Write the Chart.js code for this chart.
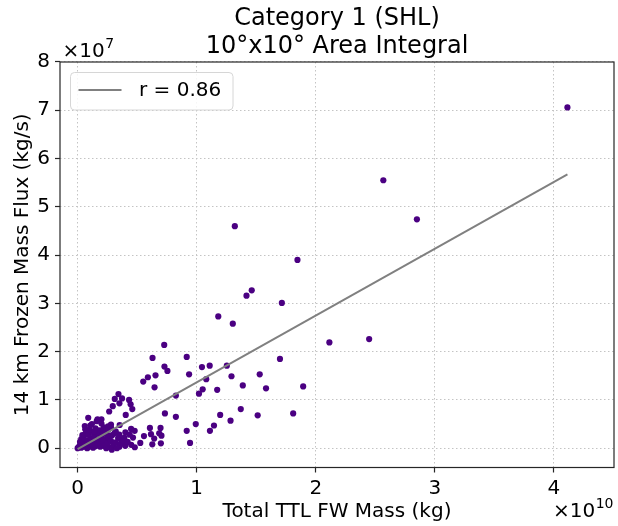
<!DOCTYPE html>
<html lang="en">
<head>
<meta charset="UTF-8">
<title>Category 1 (SHL) - 10x10 Area Integral</title>
<script src="https://cdn.jsdelivr.net/npm/chart.js"></script>
<style>
    body {
        margin: 0;
        background: #fff;
    }
    #wrap {
        width: 618px;
        height: 526px;
    }
</style>
</head>
<body>
<div id="wrap"><canvas id="scatter" width="618" height="526"></canvas></div>
<script>
// values: x in units of 1e10 kg, y in units of 1e7 kg/s
const massX = [
    4.113, 2.567, 2.849, 2.448, 2.114, 1.320, 1.846, 1.462, 1.418, 1.715,
    1.181, 1.303, 0.727, 0.629, 0.916, 1.699, 0.729, 0.754, 1.044, 1.109,
    1.253, 0.936, 1.292, 1.529, 0.551, 0.590, 0.654, 0.646, 1.080, 1.387,
    1.582, 1.894, 1.172, 1.050, 1.019, 0.825, 0.733, 0.825, 1.370, 1.197,
    1.512, 1.810, 1.284, 0.992, 1.145, 1.111, 0.916, 0.944, 0.607, 0.696,
    0.557, 0.616, 0.643, 0.685, 0.704, 0.526, 0.627, 0.699,
    0.343, 0.373, 0.312, 0.432, 0.351, 0.445, 0.295, 0.459, 0.265, 0.404,
    0.089, 0.167, 0.200, 0.256, 0.353, 0.479, 0.449, 0.401, 0.437, 0.465,
    0.393, 0.359, 0.351, 0.287,
    0.00, 0.01, 0.02, 0.03, 0.04, 0.05, 0.06, 0.07, 0.08, 0.09,
    0.10, 0.11, 0.12, 0.13, 0.14, 0.15, 0.16, 0.17, 0.18, 0.19,
    0.20, 0.21, 0.22, 0.23, 0.24, 0.25, 0.26, 0.27, 0.28, 0.29,
    0.03, 0.05, 0.07, 0.09, 0.12, 0.02, 0.04, 0.10, 0.15, 0.18,
    0.22, 0.26, 0.08, 0.13, 0.19, 0.24, 0.30, 0.32, 0.34, 0.36,
    0.38, 0.31, 0.35, 0.40, 0.42, 0.28, 0.20, 0.16, 0.12, 0.06,
    0.064, 0.106, 0.142, 0.211, 0.28, 0.32, 0.45, 0.48, 0.33, 0.17,
    0.06, 0.11, 0.25, 0.21, 0.14
];
const fluxY = [
    7.06, 5.55, 4.74, 2.26, 2.19, 4.60, 3.90, 3.27, 3.16, 3.01,
    2.73, 2.58, 2.14, 1.87, 1.89, 1.85, 1.69, 1.60, 1.68, 1.71,
    1.71, 1.53, 1.49, 1.53, 1.38, 1.47, 1.51, 1.26, 1.43, 1.30,
    1.24, 1.28, 1.21, 1.22, 1.13, 1.09, 0.72, 0.65, 0.81, 0.69,
    0.68, 0.72, 0.57, 0.50, 0.47, 0.36, 0.36, 0.11, 0.42, 0.42,
    0.25, 0.29, 0.20, 0.31, 0.26, 0.11, 0.08, 0.10,
    1.12, 1.03, 1.02, 1.00, 0.93, 0.91, 0.87, 0.81, 0.76, 0.69,
    0.63, 0.60, 0.60, 0.45, 0.48, 0.36, 0.40, 0.33, 0.28, 0.22,
    0.22, 0.19, 0.03, -0.03,
    0.00, 0.03, 0.06, 0.01, 0.09, 0.03, 0.13, 0.05, 0.16, 0.02,
    0.10, 0.21, 0.06, 0.14, 0.26, 0.04, 0.18, 0.31, 0.09, 0.23,
    0.13, 0.29, 0.05, 0.17, 0.34, 0.10, 0.22, 0.02, 0.15, 0.27,
    0.19, 0.23, 0.31, 0.28, 0.34, 0.13, 0.27, 0.38, 0.41, 0.37,
    0.43, 0.39, 0.00, 0.01, 0.03, 0.00, 0.07, 0.12, 0.21, 0.08,
    0.15, 0.31, 0.28, 0.05, 0.13, 0.49, 0.51, 0.56, 0.50, 0.46,
    0.39, 0.47, 0.35, 0.38, 0.43, 0.35, 0.07, 0.02, 0.00, 0.09,
    0.07, 0.13, 0.27, 0.19, 0.07
];

// least squares fit line end points
const fitX = [0.0, 4.113];
const fitY = [-0.02, 5.67];
const fitLabel = 'r = 0.86';

const xTicks = [0, 1, 2, 3, 4];
const yTicks = [0, 1, 2, 3, 4, 5, 6, 7, 8];
const xExponent = '10';
const yExponent = '7';

const FONT = "'DejaVu Sans', sans-serif";

// frame, legend box and the x10^n offset labels
const extras = {
    id: 'extras',
    afterDatasetsDraw(chart) {
        const ctx = chart.ctx;
        const a = chart.chartArea;
        ctx.save();

        // legend
        const lx = a.left + 10.5, ly = a.top + 10.5, lw = 162.5, lh = 37.5, r = 4;
        ctx.beginPath();
        ctx.moveTo(lx + r, ly);
        ctx.arcTo(lx + lw, ly, lx + lw, ly + lh, r);
        ctx.arcTo(lx + lw, ly + lh, lx, ly + lh, r);
        ctx.arcTo(lx, ly + lh, lx, ly, r);
        ctx.arcTo(lx, ly, lx + lw, ly, r);
        ctx.closePath();
        ctx.fillStyle = 'rgba(255,255,255,0.85)';
        ctx.fill();
        ctx.strokeStyle = '#d6d6d6';
        ctx.lineWidth = 1;
        ctx.stroke();

        const line = chart.data.datasets[1];
        ctx.beginPath();
        ctx.moveTo(lx + 8, ly + 17.5);
        ctx.lineTo(lx + 51, ly + 17.5);
        ctx.strokeStyle = line.borderColor;
        ctx.lineWidth = line.borderWidth;
        ctx.stroke();
        ctx.fillStyle = '#000';
        ctx.font = '20px ' + FONT;
        ctx.textBaseline = 'middle';
        ctx.textAlign = 'left';
        ctx.fillText(line.label, lx + 68.5, ly + 18);

        // frame
        ctx.strokeStyle = '#262626';
        ctx.lineWidth = 1.2;
        ctx.strokeRect(a.left, a.top, a.right - a.left, a.bottom - a.top);

        // offset text
        function power(x, baseline, exp, alignRight) {
            ctx.textBaseline = 'alphabetic';
            ctx.textAlign = 'left';
            ctx.font = '20px ' + FONT;
            const base = '\u00d710';
            const wb = ctx.measureText(base).width;
            ctx.font = '14px ' + FONT;
            const we = ctx.measureText(exp).width;
            const start = alignRight ? x - wb - we : x;
            ctx.font = '20px ' + FONT;
            ctx.fillText(base, start, baseline);
            ctx.font = '14px ' + FONT;
            ctx.fillText(exp, start + wb + 0.5, baseline - 9);
        }
        power(a.left + 2.5, a.top - 5.5, yExponent, false);
        power(a.right - 1, 516.5, xExponent, true);

        ctx.restore();
    }
};

const points = massX.map((x, i) => ({ x: x, y: fluxY[i] }));
const fitLine = fitX.map((x, i) => ({ x: x, y: fitY[i] }));

const gridStyle = {
    color: '#c4c4c4',
    lineWidth: 1,
    tickColor: '#262626',
    tickWidth: 1.2,
    tickLength: 5,
    tickBorderDash: []
};

new Chart(document.getElementById('scatter'), {
    type: 'scatter',
    data: {
        datasets: [{
            label: 'data',
            data: points,
            backgroundColor: '#4b0082',
            borderColor: '#4b0082',
            pointRadius: 3.1,
            borderWidth: 0,
            order: 2
        }, {
            type: 'line',
            label: fitLabel,
            data: fitLine,
            borderColor: '#808080',
            borderWidth: 2,
            pointRadius: 0,
            fill: false,
            order: 1
        }]
    },
    options: {
        responsive: false,
        animation: false,
        layout: {
            padding: { left: 0, right: 1.5, top: 0, bottom: 0 }
        },
        plugins: {
            legend: { display: false },
            tooltip: { enabled: false },
            title: {
                display: true,
                fullSize: false,
                text: ['Category 1 (SHL)', '10\u00b0x10\u00b0 Area Integral'],
                color: '#000',
                font: { family: FONT, size: 24, weight: 'normal', lineHeight: 1.2 },
                padding: { top: 4, bottom: 0.4 }
            }
        },
        scales: {
            x: {
                type: 'linear',
                min: -0.148,
                max: 4.504,
                afterBuildTicks: s => { s.ticks = xTicks.map(v => ({ value: v })); },
                afterFit: s => { s.height = 58.5; },
                grid: gridStyle,
                border: { display: false, dash: [1.5, 2.5] },
                ticks: {
                    color: '#000',
                    padding: 4,
                    maxRotation: 0,
                    font: { family: FONT, size: 20 },
                    callback: v => String(v)
                },
                title: {
                    display: true,
                    text: 'Total TTL FW Mass (kg)',
                    color: '#000',
                    font: { family: FONT, size: 20 },
                    padding: { top: 0, bottom: 2 }
                }
            },
            y: {
                type: 'linear',
                min: -0.4,
                max: 8,
                afterBuildTicks: s => { s.ticks = yTicks.map(v => ({ value: v })); },
                afterFit: s => { s.width = 60; },
                grid: gridStyle,
                border: { display: false, dash: [1.5, 2.5] },
                ticks: {
                    color: '#000',
                    padding: 5,
                    font: { family: FONT, size: 20 },
                    callback: v => String(v)
                },
                title: {
                    display: true,
                    text: '14 km Frozen Mass Flux (kg/s)',
                    color: '#000',
                    font: { family: FONT, size: 20 },
                    padding: { top: 11, bottom: 0 }
                }
            }
        }
    },
    plugins: [extras]
});
</script>
</body>
</html>
